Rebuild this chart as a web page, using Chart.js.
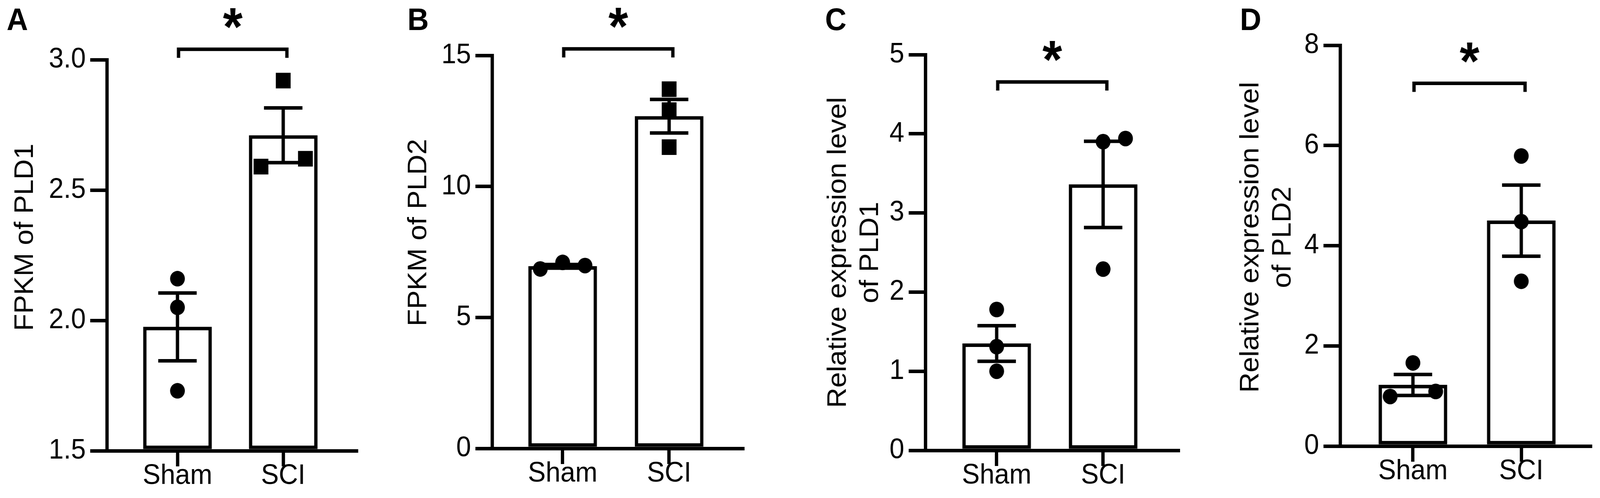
<!DOCTYPE html>
<html>
<head>
<meta charset="utf-8">
<title>PLD1 / PLD2 in Sham vs SCI</title>
<script src="https://cdn.jsdelivr.net/npm/chart.js@4.4.1/dist/chart.umd.min.js"></script>
<style>
  html, body { margin: 0; padding: 0; background: #fff; overflow: hidden; }
  #wrap { position: relative; width: 4328px; height: 1276px; overflow: hidden; background: #fff; transform-origin: 0 0; }
  canvas { position: absolute; top: 0; }
  .letter { position: absolute; top: 10px; font: bold 80px/80px 'Liberation Sans', Arial, sans-serif; color: #000; z-index: 2; }
</style>
</head>
<body>
<div id="wrap">
  <canvas id="panelA" width="1080" height="1276" style="left:0px"></canvas>
  <canvas id="panelB" width="1090" height="1276" style="left:1080px"></canvas>
  <canvas id="panelC" width="1130" height="1276" style="left:2170px"></canvas>
  <canvas id="panelD" width="1028" height="1276" style="left:3300px"></canvas>
  <div class="letter" style="left:18px">A</div>
  <div class="letter" style="left:1102px">B</div>
  <div class="letter" style="left:2232px">C</div>
  <div class="letter" style="left:3354px">D</div>
</div>
<script>
// Groups on the x axis
const groups = ['Sham', 'SCI'];

// A - FPKM of PLD1 (bar = mean, whisker = SEM, dots = replicates)
const pld1FpkmMean = [1.975, 2.71];
const pld1FpkmSem = [0.13, 0.105];
const pld1FpkmSham = [2.16, 2.05, 1.73];
const pld1FpkmSci = [2.92, 2.59, 2.62];

// B - FPKM of PLD2
const pld2FpkmMean = [6.95, 12.68];
const pld2FpkmSem = [0.07, 0.64];
const pld2FpkmSham = [6.85, 7.10, 6.98];
const pld2FpkmSci = [13.71, 12.91, 11.50];

// C - relative expression of PLD1
const pld1RelMean = [1.35, 3.36];
const pld1RelSem = [0.225, 0.545];
const pld1RelSham = [1.78, 1.31, 1.00];
const pld1RelSci = [3.90, 3.94, 2.29];

// D - relative expression of PLD2
const pld2RelMean = [1.22, 4.50];
const pld2RelSem = [0.21, 0.71];
const pld2RelSham = [1.66, 0.99, 1.09];
const pld2RelSci = [5.79, 4.48, 3.29];

const FONT = "'Liberation Sans', Arial, sans-serif";
const CANVAS_H = 1276;
const JITTER = 0.21; // horizontal spread of replicate dots, in group units

// fit the 4328x1276 figure into whatever viewport we actually get
const wrap = document.getElementById('wrap');
const sx = Math.min(1, window.innerWidth / 4328);
const sy = Math.min(1, window.innerHeight / 1276);
wrap.style.transform = 'scale(' + sx + ',' + sy + ')';

// layout of each panel (pixels) and its scales
const panels = [
    { id: 'panelA', left: 0, width: 1080, axisX: 289, top: 153, bottom: 1155, right: 964,
      xMin: -0.668, xMax: 1.692, yMin: 1.5, yMax: 3.0, step: 0.5, decimals: 1,
      title: ['FPKM of PLD1'], titleX: 69, titleY: 608,
      mean: pld1FpkmMean, sem: pld1FpkmSem, points: [pld1FpkmSham, pld1FpkmSci],
      slots: [[0, 0, 0], [0, -1, 1]], markers: ['circle', 'rect'], bracket: 3.04 },
    { id: 'panelB', left: 1080, width: 1090, axisX: 1331, top: 142, bottom: 1149, right: 2009,
      xMin: -0.663, xMax: 1.691, yMin: 0, yMax: 15, step: 5, decimals: 0,
      title: ['FPKM of PLD2'], titleX: 1133, titleY: 596,
      mean: pld2FpkmMean, sem: pld2FpkmSem, points: [pld2FpkmSham, pld2FpkmSci],
      slots: [[-1, 0, 1], [0, 0, 0]], markers: ['circle', 'rect'], bracket: 15.25 },
    { id: 'panelC', left: 2170, width: 1130, axisX: 2503, top: 140, bottom: 1154, right: 3187,
      xMin: -0.670, xMax: 1.705, yMin: 0, yMax: 5, step: 1, decimals: 0,
      title: ['Relative expression level', 'of PLD1'], titleX: 2268, titleY: 647,
      mean: pld1RelMean, sem: pld1RelSem, points: [pld1RelSham, pld1RelSci],
      slots: [[0, 0, 0], [0, 1, 0]], markers: ['circle', 'circle'], bracket: 4.655 },
    { id: 'panelD', left: 3300, width: 1028, axisX: 3625, top: 116, bottom: 1143, right: 4302,
      xMin: -0.672, xMax: 1.638, yMin: 0, yMax: 8, step: 2, decimals: 0,
      title: ['Relative expression level', 'of PLD2'], titleX: 3384, titleY: 608,
      mean: pld2RelMean, sem: pld2RelSem, points: [pld2RelSham, pld2RelSci],
      slots: [[0, -1, 1], [0, 0, 0]], markers: ['circle', 'circle'], bracket: 7.24 }
];

// SEM whiskers, significance bracket, asterisk and the rotated y title
const markPlugin = {
    id: 'marks',
    afterDatasetsDraw(chart) {
        const o = chart.options.plugins.marks;
        const x = chart.scales.x, y = chart.scales.y;
        const ctx = chart.ctx;
        ctx.save();
        ctx.strokeStyle = '#000';
        ctx.lineWidth = 9;
        ctx.lineCap = 'butt';
        o.mean.forEach((m, i) => {
            const px = x.getPixelForValue(i);
            const hi = y.getPixelForValue(m + o.sem[i]);
            const lo = y.getPixelForValue(m - o.sem[i]);
            ctx.beginPath();
            ctx.moveTo(px, hi);
            ctx.lineTo(px, lo);
            ctx.moveTo(px - 52, hi);
            ctx.lineTo(px + 52, hi);
            ctx.moveTo(px - 52, lo);
            ctx.lineTo(px + 52, lo);
            ctx.stroke();
        });
        ctx.restore();
    },
    afterDraw(chart) {
        const o = chart.options.plugins.marks;
        const x = chart.scales.x, y = chart.scales.y;
        const ctx = chart.ctx;
        const x0 = x.getPixelForValue(0.01);
        const x1 = x.getPixelForValue(1.035);
        const yb = y.getPixelForValue(o.bracket);
        ctx.save();
        ctx.strokeStyle = '#000';
        ctx.lineWidth = 9;
        ctx.lineJoin = 'miter';
        ctx.beginPath();
        ctx.moveTo(x0, yb + 22);
        ctx.lineTo(x0, yb);
        ctx.lineTo(x1, yb);
        ctx.lineTo(x1, yb + 22);
        ctx.stroke();

        // asterisk, sized and centred on its own glyph box
        ctx.font = 'bold 100px ' + FONT;
        let m = ctx.measureText('*');
        const size = 100 * 52 / (m.actualBoundingBoxAscent + m.actualBoundingBoxDescent);
        ctx.font = 'bold ' + size.toFixed(1) + 'px ' + FONT;
        m = ctx.measureText('*');
        const cy = yb - 79;
        const base = cy + (m.actualBoundingBoxAscent - m.actualBoundingBoxDescent) / 2;
        ctx.fillStyle = '#000';
        ctx.textAlign = 'center';
        ctx.textBaseline = 'alphabetic';
        ctx.fillText('*', (x0 + x1) / 2, base);

        // y axis title, one rotated line after another
        ctx.font = '72px ' + FONT;
        ctx.textBaseline = 'middle';
        o.title.forEach((line, k) => {
            ctx.save();
            ctx.translate(o.titleX + k * 87, o.titleY);
            ctx.rotate(-Math.PI / 2);
            ctx.fillText(line, 0, 0);
            ctx.restore();
        });
        ctx.restore();
    }
};

function createPanel(p) {
    const barData = groups.map((g, i) => ({ x: i, y: p.mean[i] }));
    const dotSets = p.points.map((vals, i) => ({
        type: 'scatter',
        data: vals.map((v, k) => ({ x: i + p.slots[i][k] * JITTER, y: v })),
        pointStyle: p.markers[i],
        pointRadius: p.markers[i] === 'rect' ? 28.3 : 20,
        pointBackgroundColor: '#000',
        pointBorderWidth: 0,
        clip: false,
        order: 0
    }));

    new Chart(document.getElementById(p.id), {
        type: 'bar',
        data: {
            datasets: [{
                data: barData,
                base: p.yMin,
                backgroundColor: '#fff',
                borderColor: '#000',
                borderWidth: 9,
                borderSkipped: false,
                barThickness: 185,
                clip: false,
                order: 1
            }, ...dotSets]
        },
        options: {
            responsive: false,
            animation: false,
            devicePixelRatio: 1,
            events: [],
            layout: {
                padding: { left: 0, top: p.top, right: p.left + p.width - p.right, bottom: 0 }
            },
            plugins: {
                legend: { display: false },
                tooltip: { enabled: false },
                marks: { mean: p.mean, sem: p.sem, bracket: p.bracket,
                         title: p.title, titleX: p.titleX - p.left, titleY: p.titleY }
            },
            scales: {
                x: {
                    type: 'linear',
                    min: p.xMin,
                    max: p.xMax,
                    offset: false,
                    afterFit: s => { s.height = CANVAS_H - p.bottom; },
                    afterBuildTicks: s => { s.ticks = groups.map((g, i) => ({ value: i })); },
                    ticks: {
                        color: '#000',
                        font: { family: FONT, size: 72, lineHeight: 1 },
                        padding: -11,
                        autoSkip: false,
                        maxRotation: 0,
                        callback: v => groups[v]
                    },
                    grid: { display: true, offset: false, drawOnChartArea: false, drawTicks: true,
                            tickLength: 40, lineWidth: 9, color: '#000' },
                    border: { display: true, width: 9, color: '#000' }
                },
                y: {
                    type: 'linear',
                    min: p.yMin,
                    max: p.yMax,
                    afterFit: s => { s.width = p.axisX - p.left; },
                    ticks: {
                        stepSize: p.step,
                        color: '#000',
                        font: { family: FONT, size: 72 },
                        padding: 12,
                        callback: v => Number(v).toFixed(p.decimals)
                    },
                    grid: { display: true, drawOnChartArea: false, drawTicks: true,
                            tickLength: 45, lineWidth: 9, color: '#000' },
                    border: { display: true, width: 9, color: '#000' },
                    title: { display: false }
                }
            }
        },
        plugins: [markPlugin]
    });
}

panels.forEach(createPanel);
</script>
</body>
</html>
